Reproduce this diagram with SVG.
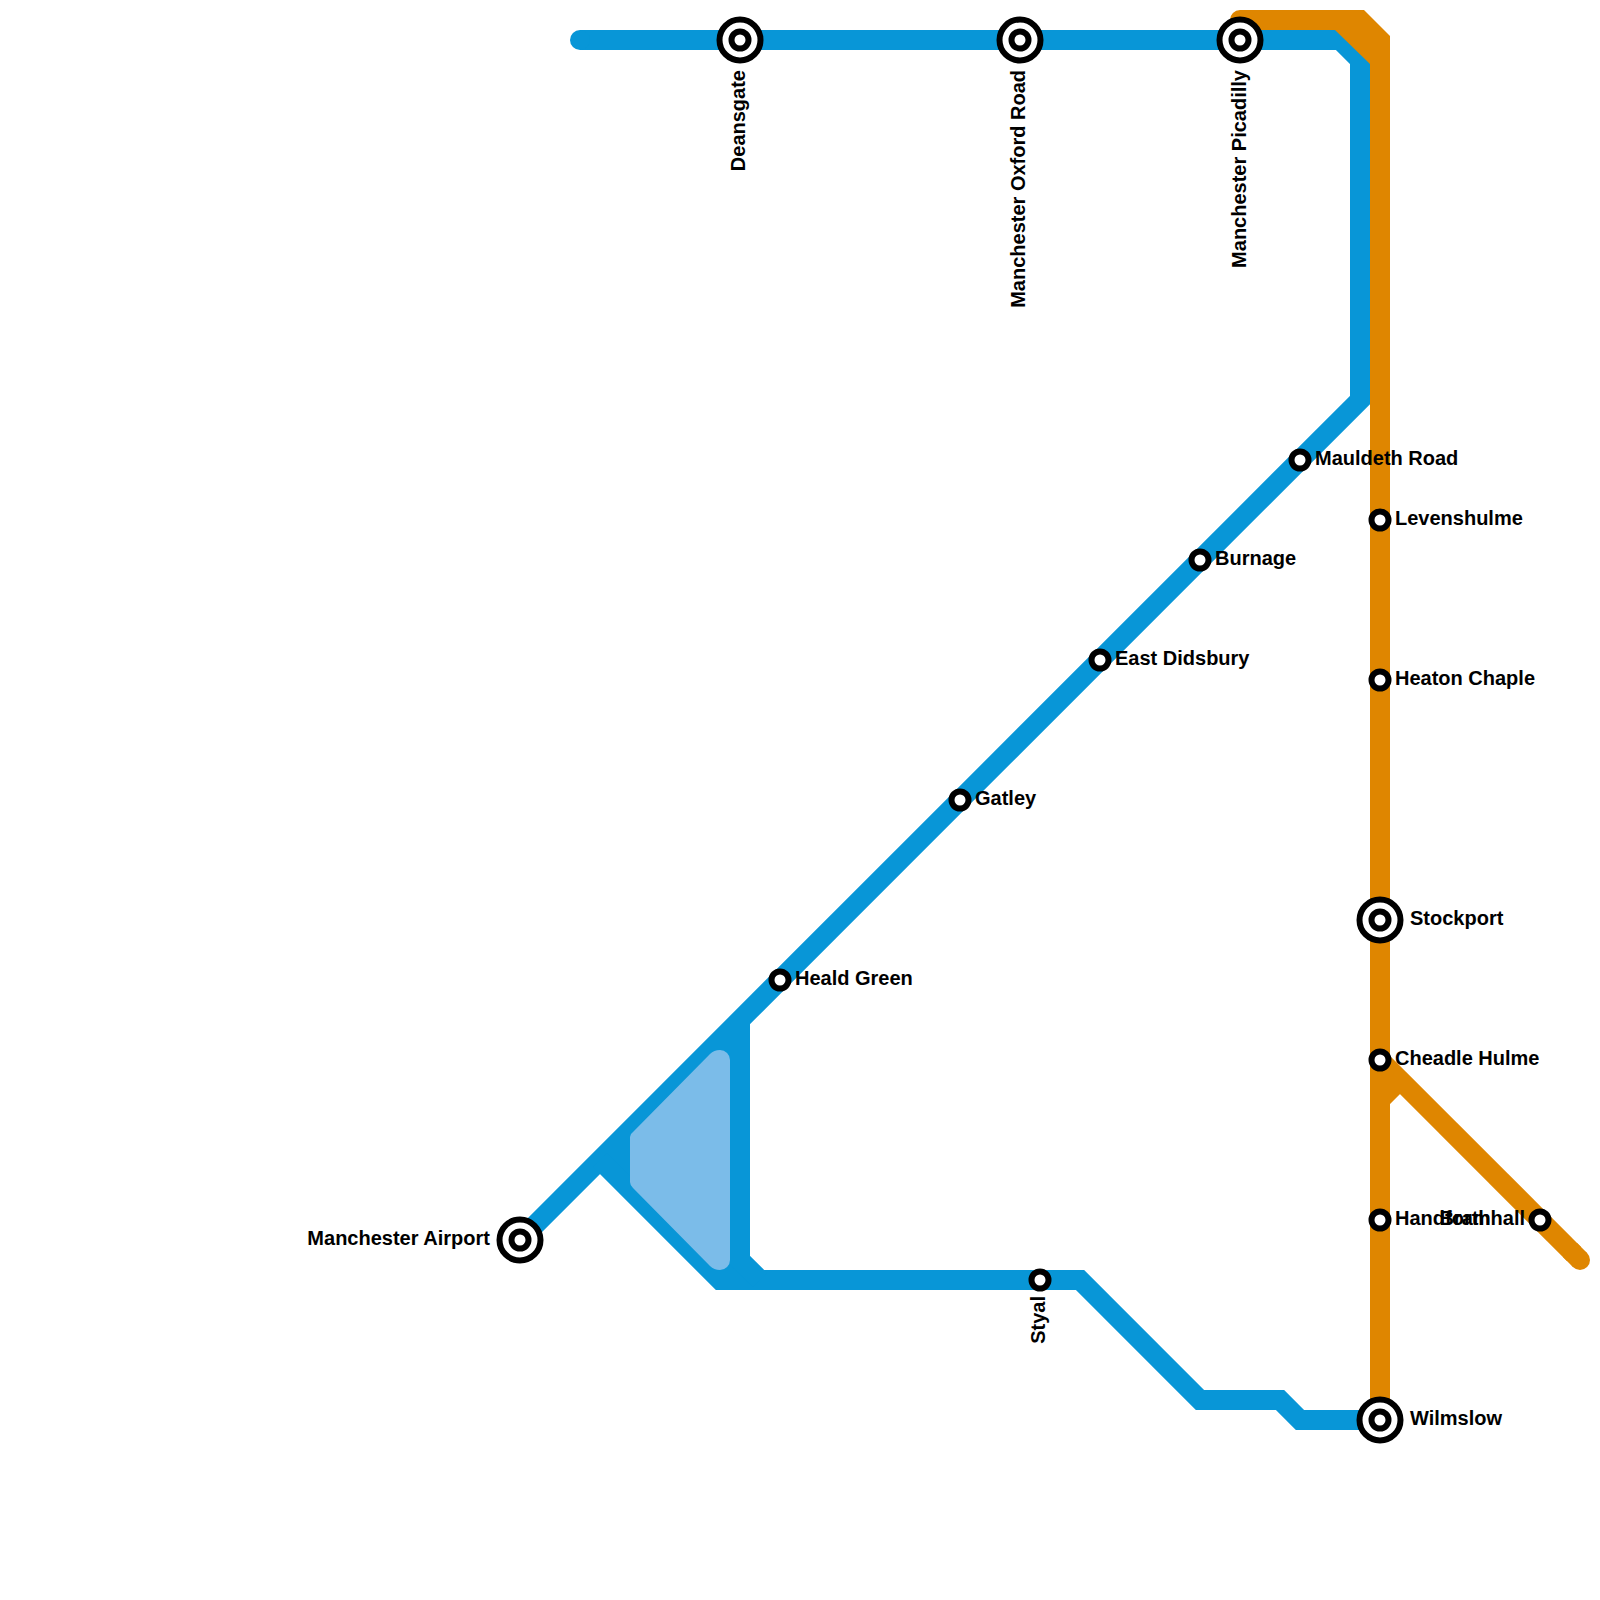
<svg xmlns="http://www.w3.org/2000/svg" width="1600" height="1600" viewBox="0 0 1600 1600">
<style>
.b{fill:none;stroke:#0896d7;stroke-width:20;stroke-linejoin:miter;stroke-linecap:butt}
.o{fill:none;stroke:#df8600;stroke-width:20}
.r{fill:#fff;stroke:#000;stroke-width:6}
.R{fill:#fff;stroke:#000;stroke-width:6}
text{font-family:"Liberation Sans",Arial,sans-serif;font-weight:700;font-size:20px;fill:#000}
.e{text-anchor:end}
</style>
<rect width="1600" height="1600" fill="#fff"/>
<g id="connectors">
<path class="b" d="M580 40H1340L1360 60V400L520 1240" />
<circle cx="580" cy="40" r="10" fill="#0896d7"/>
<path fill="#0896d7" d="M600 1160L740 1020V1280H720Z"/>
<path class="b" d="M600 1160L720 1280H1080L1200 1400H1280L1300 1420H1380"/>
<path class="b" d="M740 1020V1260L760 1280"/>
<path fill="#7bbce9" d="M630 1137Q630 1134 633 1132L710 1054Q714 1050 720 1050A10 10 0 0 1 730 1060V1260A10 10 0 0 1 720 1270Q714 1270 710 1266L633 1188Q630 1185 630 1182Z"/>
<path fill="#df8600" d="M1240 10H1364L1390 36V1420H1370V64L1335 30H1240A10 10 0 0 1 1240 10Z"/>
<path class="o" d="M1380 1060L1574 1254"/>
<path class="o" d="M1380 1100L1400 1080"/>
<circle cx="1580" cy="1260" r="10" fill="#df8600"/>
<path class="o" d="M1570 1250L1580 1260"/>
</g>
<g id="manchester-airport"><circle class="R" cx="520" cy="1240" r="20.5"/><circle class="r" cx="520" cy="1240" r="8.5"/><text class="e" x="490" y="1245">Manchester Airport</text></g>
<g id="deansgate"><circle class="R" cx="740" cy="40" r="20.5"/><circle class="r" cx="740" cy="40" r="8.5"/><text transform="translate(745 70) rotate(-90)" class="e">Deansgate</text></g>
<g id="oxford-road"><circle class="R" cx="1020" cy="40" r="20.5"/><circle class="r" cx="1020" cy="40" r="8.5"/><text transform="translate(1024.5 70) rotate(-90)" class="e">Manchester Oxford Road</text></g>
<g id="picadilly"><circle class="R" cx="1240" cy="40" r="20.5"/><circle class="r" cx="1240" cy="40" r="8.5"/><text transform="translate(1245.5 70) rotate(-90)" class="e">Manchester Picadilly</text></g>
<g id="mauldeth-road"><circle class="r" cx="1300" cy="460" r="8.5"/><text x="1315" y="465">Mauldeth Road</text></g>
<g id="burnage"><circle class="r" cx="1200" cy="560" r="8.5"/><text x="1215" y="565">Burnage</text></g>
<g id="east-didsbury"><circle class="r" cx="1100" cy="660" r="8.5"/><text x="1115" y="665">East Didsbury</text></g>
<g id="gatley"><circle class="r" cx="960" cy="800" r="8.5"/><text x="975" y="805">Gatley</text></g>
<g id="heald-green"><circle class="r" cx="780" cy="980" r="8.5"/><text x="795" y="985">Heald Green</text></g>
<g id="styal"><circle class="r" cx="1040" cy="1280" r="8.5"/><text transform="translate(1045 1296) rotate(-90)" class="e">Styal</text></g>
<g id="levenshulme"><circle class="r" cx="1380" cy="520" r="8.5"/><text x="1395" y="525">Levenshulme</text></g>
<g id="heaton-chaple"><circle class="r" cx="1380" cy="680" r="8.5"/><text x="1395" y="685">Heaton Chaple</text></g>
<g id="stockport"><circle class="R" cx="1380" cy="920" r="20.5"/><circle class="r" cx="1380" cy="920" r="8.5"/><text x="1410" y="925">Stockport</text></g>
<g id="cheadle-hulme"><circle class="r" cx="1380" cy="1060" r="8.5"/><text x="1395" y="1065">Cheadle Hulme</text></g>
<g id="handforth"><circle class="r" cx="1380" cy="1220" r="8.5"/><text x="1395" y="1225">Handforth</text></g>
<g id="bramhall"><circle class="r" cx="1540" cy="1220" r="8.5"/><text class="e" x="1525" y="1225">Bramhall</text></g>
<g id="wilmslow"><circle class="R" cx="1380" cy="1420" r="20.5"/><circle class="r" cx="1380" cy="1420" r="8.5"/><text x="1410" y="1425">Wilmslow</text></g>
</svg>
